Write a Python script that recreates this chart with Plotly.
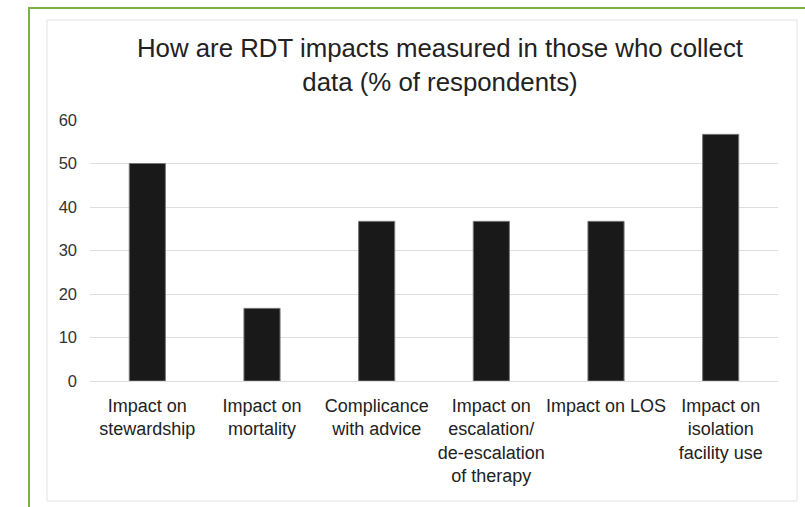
import plotly.graph_objects as go

categories = [
    "Impact on<br>stewardship",
    "Impact on<br>mortality",
    "Complicance<br>with advice",
    "Impact on<br>escalation/<br>de-escalation<br>of therapy",
    "Impact on LOS",
    "Impact on<br>isolation<br>facility use",
]
values = [50, 16.7, 36.7, 36.7, 36.7, 56.7]
y_ticks = [0, 10, 20, 30, 40, 50, 60]
title_text = "How are RDT impacts measured in those who collect<br>data (% of respondents)"

W, H = 805, 507
L, R, T, B = 90, 778, 120, 381

def px_x(p):
    return (p - L) / (R - L)

def px_y(p):
    return (B - p) / (B - T)

fig = go.Figure()
fig.add_trace(go.Bar(
    x=categories, y=values,
    marker=dict(color="#191919", line=dict(color="#777777", width=1)),
    width=0.315,
))

shapes = [
    dict(type="rect", xref="paper", yref="paper",
         x0=px_x(29), x1=px_x(830), y0=px_y(530), y1=px_y(8),
         line=dict(color="#7cb342", width=2), fillcolor="rgba(0,0,0,0)", layer="below"),
    dict(type="rect", xref="paper", yref="paper",
         x0=px_x(47), x1=px_x(797), y0=px_y(501), y1=px_y(20),
         line=dict(color="#e3e3e3", width=1), fillcolor="rgba(0,0,0,0)", layer="below"),
]

fig.update_layout(
    width=W, height=H,
    margin=dict(l=L, r=W - R, t=T, b=H - B, pad=0),
    paper_bgcolor="white", plot_bgcolor="white",
    font=dict(family="Liberation Sans, Arial, sans-serif", color="#222222"),
    title=dict(text=title_text, x=440 / W, xanchor="center",
               y=1 - 57 / H, yanchor="top",
               font=dict(size=25.8, color="#222222")),
    showlegend=False,
    shapes=shapes,
    bargap=0.6,
)
fig.update_yaxes(
    range=[0, 60], tickvals=y_ticks, showgrid=True, gridcolor="#dedede", gridwidth=1,
    zeroline=True, zerolinecolor="#dedede", zerolinewidth=1,
    showline=False, tickfont=dict(size=16.5, color="#333333"),
    ticklabelstandoff=12,
)
fig.update_xaxes(
    showline=False, showgrid=False, tickfont=dict(size=18, color="#222222"),
    tickangle=0, ticklabelstandoff=12,
)
fig.write_html("out.html")
